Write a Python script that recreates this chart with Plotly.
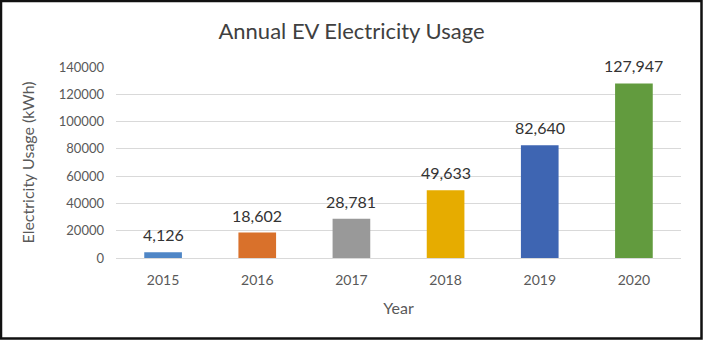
import plotly.graph_objects as go

years = ["2015", "2016", "2017", "2018", "2019", "2020"]
usage_kwh = [4126, 18602, 28781, 49633, 82640, 127947]
bar_colors = ["#4F86C6", "#D9712B", "#999999", "#E6AC00", "#3E65B2", "#629B3E"]
y_ticks = [0, 20000, 40000, 60000, 80000, 100000, 120000, 140000]

W, H = 703, 340
ml, mr, mt, mb = 116, 22, 67, 82

fig = go.Figure(
    go.Bar(
        x=years,
        y=usage_kwh,
        marker=dict(color=bar_colors, line=dict(width=0)),
        width=0.4,
        cliponaxis=False,
    )
)

# value labels above each bar (x given as category index)
for i, v in enumerate(usage_kwh):
    fig.add_annotation(
        x=i, y=v, xref="x", yref="y",
        text=f"{v:,}", showarrow=False,
        yanchor="bottom", yshift=6,
        font=dict(size=16, color="#333333"),
    )

pw = W - ml - mr
ph = H - mt - mb
# black frame around the whole figure
fig.add_shape(
    type="rect", xref="paper", yref="paper",
    x0=(1 - ml) / pw, x1=(W - ml - 1.5) / pw,
    y0=-(mb - 1.5) / ph, y1=(ph + mt - 1) / ph,
    line=dict(color="#111111", width=2.5), fillcolor="rgba(0,0,0,0)",
)

fig.update_layout(
    width=W, height=H,
    margin=dict(l=ml, r=mr, t=mt, b=mb),
    paper_bgcolor="white", plot_bgcolor="white",
    font=dict(family="Lato, Open Sans, sans-serif", color="#595959"),
    title=dict(text="Annual EV Electricity Usage", x=0.5, xref="container",
               xanchor="center",
               y=1 - 31 / H, yanchor="middle",
               font=dict(size=22, color="#404040")),
    showlegend=False,
    xaxis=dict(
        type="category",
        range=[-0.5, len(years) - 0.5],
        title=dict(text="Year", font=dict(size=16, color="#595959"), standoff=16),
        tickfont=dict(size=14, color="#595959"),
        ticklabelstandoff=9,
        showline=True, linecolor="#D9D9D9", linewidth=1,
        ticks="", showgrid=False,
    ),
    yaxis=dict(
        title=dict(text="Electricity Usage (kWh)", font=dict(size=16, color="#595959"), standoff=20),
        range=[0, 140000],
        tickvals=y_ticks,
        ticktext=[str(t) for t in y_ticks],
        tickfont=dict(size=13, color="#595959"),
        ticklabelstandoff=11,
        showgrid=True, gridcolor="#D9D9D9", gridwidth=1,
        zeroline=False, ticks="", ticklen=0,
    ),
)

fig.write_html("out.html")
